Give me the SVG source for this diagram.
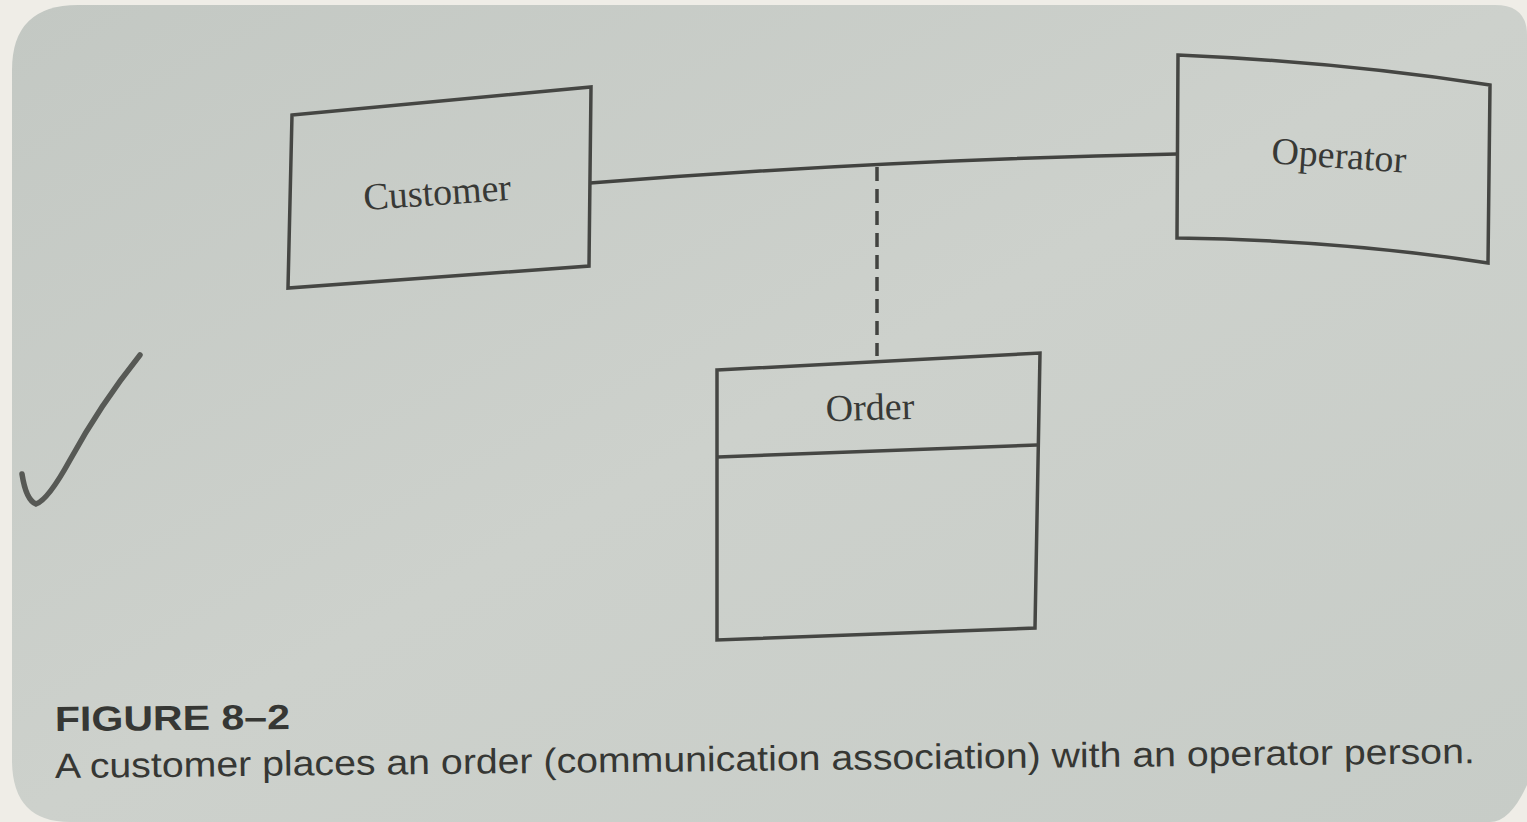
<svg xmlns="http://www.w3.org/2000/svg" width="1527" height="822" viewBox="0 0 1527 822">
<defs>
<linearGradient id="pg" x1="0" y1="0" x2="1" y2="1">
<stop offset="0" stop-color="#c3c8c3"/>
<stop offset="0.5" stop-color="#cdd1cc"/>
<stop offset="1" stop-color="#c7ccc7"/>
</linearGradient>
<style>
.box{fill:none;stroke:#454643;stroke-width:3.5;stroke-linejoin:miter}
.lbl{font-family:"Liberation Serif","DejaVu Serif",serif;font-size:38px;fill:#383936;text-anchor:middle}
.cap{font-family:"Liberation Sans",Arial,sans-serif;fill:#363734}
</style>
</defs>
<rect width="1527" height="822" fill="#efede7"/>
<path d="M12 70 Q12 5 78 5 L1495 5 Q1527 5 1527 35 L1527 785 Q1510 822 1490 822 L70 822 Q12 822 12 760 Z" fill="url(#pg)"/>
<g id="connectors">
<path d="M590 183 Q880 160 1177 154" fill="none" stroke="#424340" stroke-width="3.5"/>
<path d="M877 167 L877 356" fill="none" stroke="#424340" stroke-width="3.5" stroke-dasharray="14 8"/>
</g>
<g id="customer">
<path class="box" d="M292 115 L591 87 L589 266 L288 288 Z"/>
<text class="lbl" x="437" y="205" transform="rotate(-4 437 192)">Customer</text>
</g>
<g id="operator">
<path class="box" d="M1178 55 Q1340 62 1490 85 L1488 263 Q1340 240 1177 238 Z"/>
<text class="lbl" x="1339" y="168" transform="rotate(4 1339 155)">Operator</text>
</g>
<g id="order">
<path class="box" d="M717 370 L1040 353 L1035 628 L717 640 Z"/>
<path class="box" d="M718 457 L1037 445"/>
<text class="lbl" x="870" y="420" transform="rotate(-1.5 870 408)">Order</text>
</g>
<path d="M22 474 Q26 500 36 504 Q48 500 70 460 Q100 405 140 355" fill="none" stroke="#575955" stroke-width="5.5" stroke-linecap="round"/>
<text class="cap" x="55" y="731" font-size="35" font-weight="bold" textLength="235" lengthAdjust="spacingAndGlyphs" transform="rotate(-0.5 55 731)">FIGURE 8–2</text>
<text class="cap" x="55" y="778" font-size="35" textLength="1420" lengthAdjust="spacingAndGlyphs" transform="rotate(-0.6 55 778)">A customer places an order (communication association) with an operator person.</text>
</svg>
